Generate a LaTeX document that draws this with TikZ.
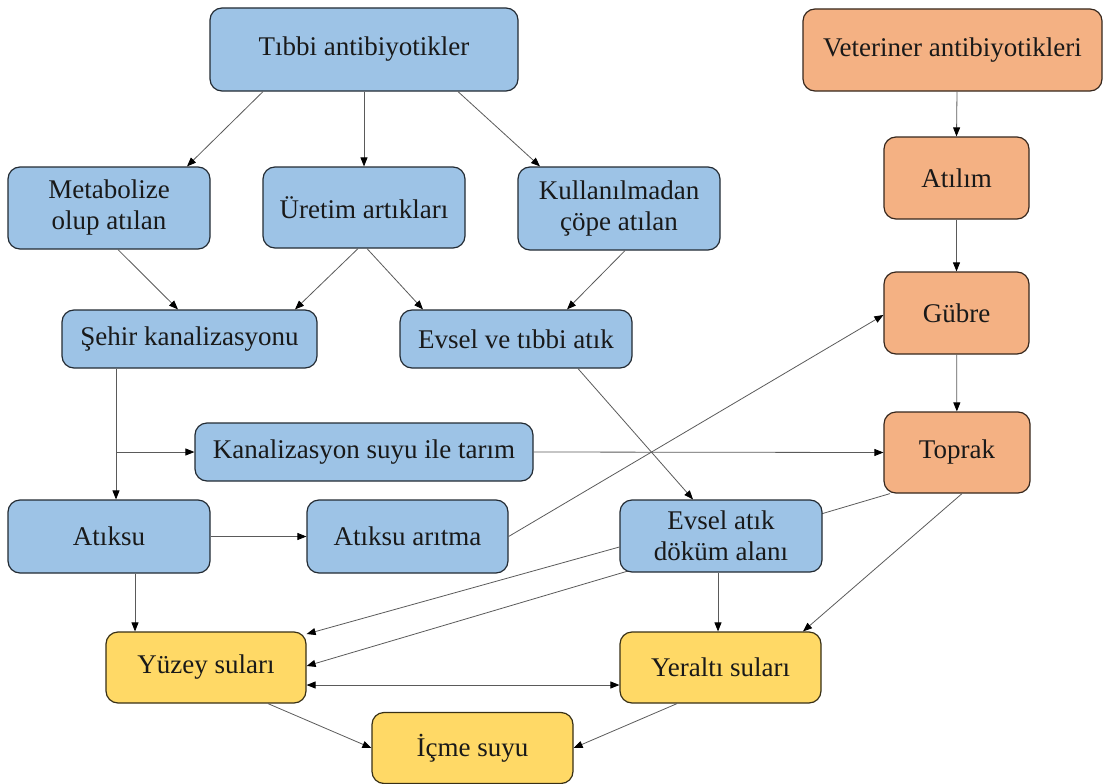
\documentclass[tikz,border=0pt]{standalone}
\usepackage{fontspec}
\setmainfont{Liberation Serif}
\usetikzlibrary{arrows.meta,backgrounds}

\definecolor{medblue}{HTML}{9DC3E6}
\definecolor{vetorange}{HTML}{F4B183}
\definecolor{wateryellow}{HTML}{FFD966}
\definecolor{linkgray}{HTML}{5A5A5A}

\begin{document}
\begin{tikzpicture}[x=1pt,y=-1pt,
			>={Triangle[length=9pt,width=7pt,color=black]},
			box/.style={rectangle,rounded corners=12pt,fill=#1,draw=#1!22!black,line width=1.2pt,
				inner sep=0pt,align=center,text=black!90,font=\fontsize{27}{31}\selectfont},
			blue node/.style={box=medblue},
			orange node/.style={box=vetorange},
			yellow node/.style={box=wateryellow},
			link/.style={draw=linkgray,line width=0.8pt,->}
			]
			
			\useasboundingbox (0,0) rectangle (1103,784);
			
			% medical side
			\node[blue node,minimum width=308pt,minimum height=83pt] at (364,49.5) (tibbi) {Tıbbi antibiyotikler};
			\node[blue node,minimum width=202pt,minimum height=82pt] at (109,208) (metabolize) {Metabolize\\olup atılan};
			\node[blue node,minimum width=202pt,minimum height=81pt] at (364,207.5) (uretim) {Üretim artıkları};
			\node[blue node,minimum width=202pt,minimum height=83pt] at (619,208.5) (kullanilmadan) {Kullanılmadan\\çöpe atılan};
			\node[blue node,minimum width=255pt,minimum height=58pt] at (189.5,339) (sehir) {Şehir kanalizasyonu};
			\node[blue node,minimum width=232pt,minimum height=58pt] at (516,339) (evseltibbi) {Evsel ve tıbbi atık};
			\node[blue node,minimum width=338pt,minimum height=58pt] at (364,452) (tarim) {Kanalizasyon suyu ile tarım};
			\node[blue node,minimum width=202pt,minimum height=73pt] at (109,536.5) (atiksu) {Atıksu};
			\node[blue node,minimum width=201pt,minimum height=73pt] at (407.5,536.5) (aritma) {Atıksu arıtma};
			\node[blue node,minimum width=202pt,minimum height=72pt] at (721,536) (dokum) {Evsel atık\\döküm alanı};
			
			% veterinary side
			\node[orange node,minimum width=299pt,minimum height=82pt] at (952.5,50) (veteriner) {Veteriner antibiyotikleri};
			\node[orange node,minimum width=145pt,minimum height=82pt] at (956.5,178) (atilim) {Atılım};
			\node[orange node,minimum width=145pt,minimum height=82pt] at (956.5,313) (gubre) {Gübre};
			\node[orange node,minimum width=146pt,minimum height=81pt] at (957,452.5) (toprak) {Toprak};
			
			% waters
			\node[yellow node,minimum width=200pt,minimum height=71pt] at (206,667.5) (yuzey) {Yüzey suları};
			\node[yellow node,minimum width=201pt,minimum height=71pt] at (720.5,667.5) (yeralti) {Yeraltı suları};
			\node[yellow node,minimum width=201pt,minimum height=71pt] at (472.5,748) (icme) {İçme suyu};
			
			\coordinate (split) at (116,452);
			
			\draw[link] ([xshift=-101pt]tibbi.south) -- ([xshift=78pt]metabolize.north);
			\draw[link] (tibbi.south) -- (uretim.north);
			\draw[link] ([xshift=94pt]tibbi.south) -- ([xshift=-79pt]kullanilmadan.north);
			\draw[link] ([xshift=9pt]metabolize.south) -- ([xshift=-11.5pt]sehir.north);
			\draw[link] ([xshift=-6pt]uretim.south) -- ([xshift=105.5pt]sehir.north);
			\draw[link] ([xshift=3pt]uretim.south) -- ([xshift=-93pt]evseltibbi.north);
			\draw[link] ([xshift=6pt]kullanilmadan.south) -- ([xshift=51pt]evseltibbi.north);
			
			\draw[link] ([xshift=4.5pt]veteriner.south) -- (atilim.north);
			\draw[link] (atilim) -- (gubre);
			\draw[link] (gubre) -- (toprak);
			
			\draw[link] ([xshift=-73.5pt]sehir.south) -- ([xshift=7pt]atiksu.north);
			\draw[link] (split) -- (tarim.west);
			\draw[link] (tarim.east) -- (toprak.west);
			\draw[link] ([xshift=62pt]evseltibbi.south) -- ([xshift=-28pt]dokum.north);
			\draw[link] (atiksu.east) -- (aritma.west);
			\draw[link] (aritma.east) -- ([yshift=-2pt]gubre.west);
			
			\draw[link] ([xshift=26pt]atiksu.south) -- ([xshift=-71pt]yuzey.north);
			\draw[link] ([yshift=-11pt]dokum.west) -- ([yshift=33.5pt]yuzey.east);
			\begin{scope}[on background layer]
				\draw[link] ([xshift=-67pt]toprak.south) -- ([yshift=1.5pt]yuzey.east);
			\end{scope}
			\draw[link] ([xshift=5pt]toprak.south) -- ([xshift=82.5pt]yeralti.north);
			\draw[link] ([xshift=-3pt]dokum.south) -- ([xshift=-2.5pt]yeralti.north);
			\draw[link,<->] ([yshift=-17.5pt]yuzey.east) -- ([yshift=-17.5pt]yeralti.west);
			\draw[link] ([xshift=62pt]yuzey.south) -- (icme.west);
			\draw[link] ([xshift=-43.5pt]yeralti.south) -- (icme.east);
\end{tikzpicture}
\end{document}
